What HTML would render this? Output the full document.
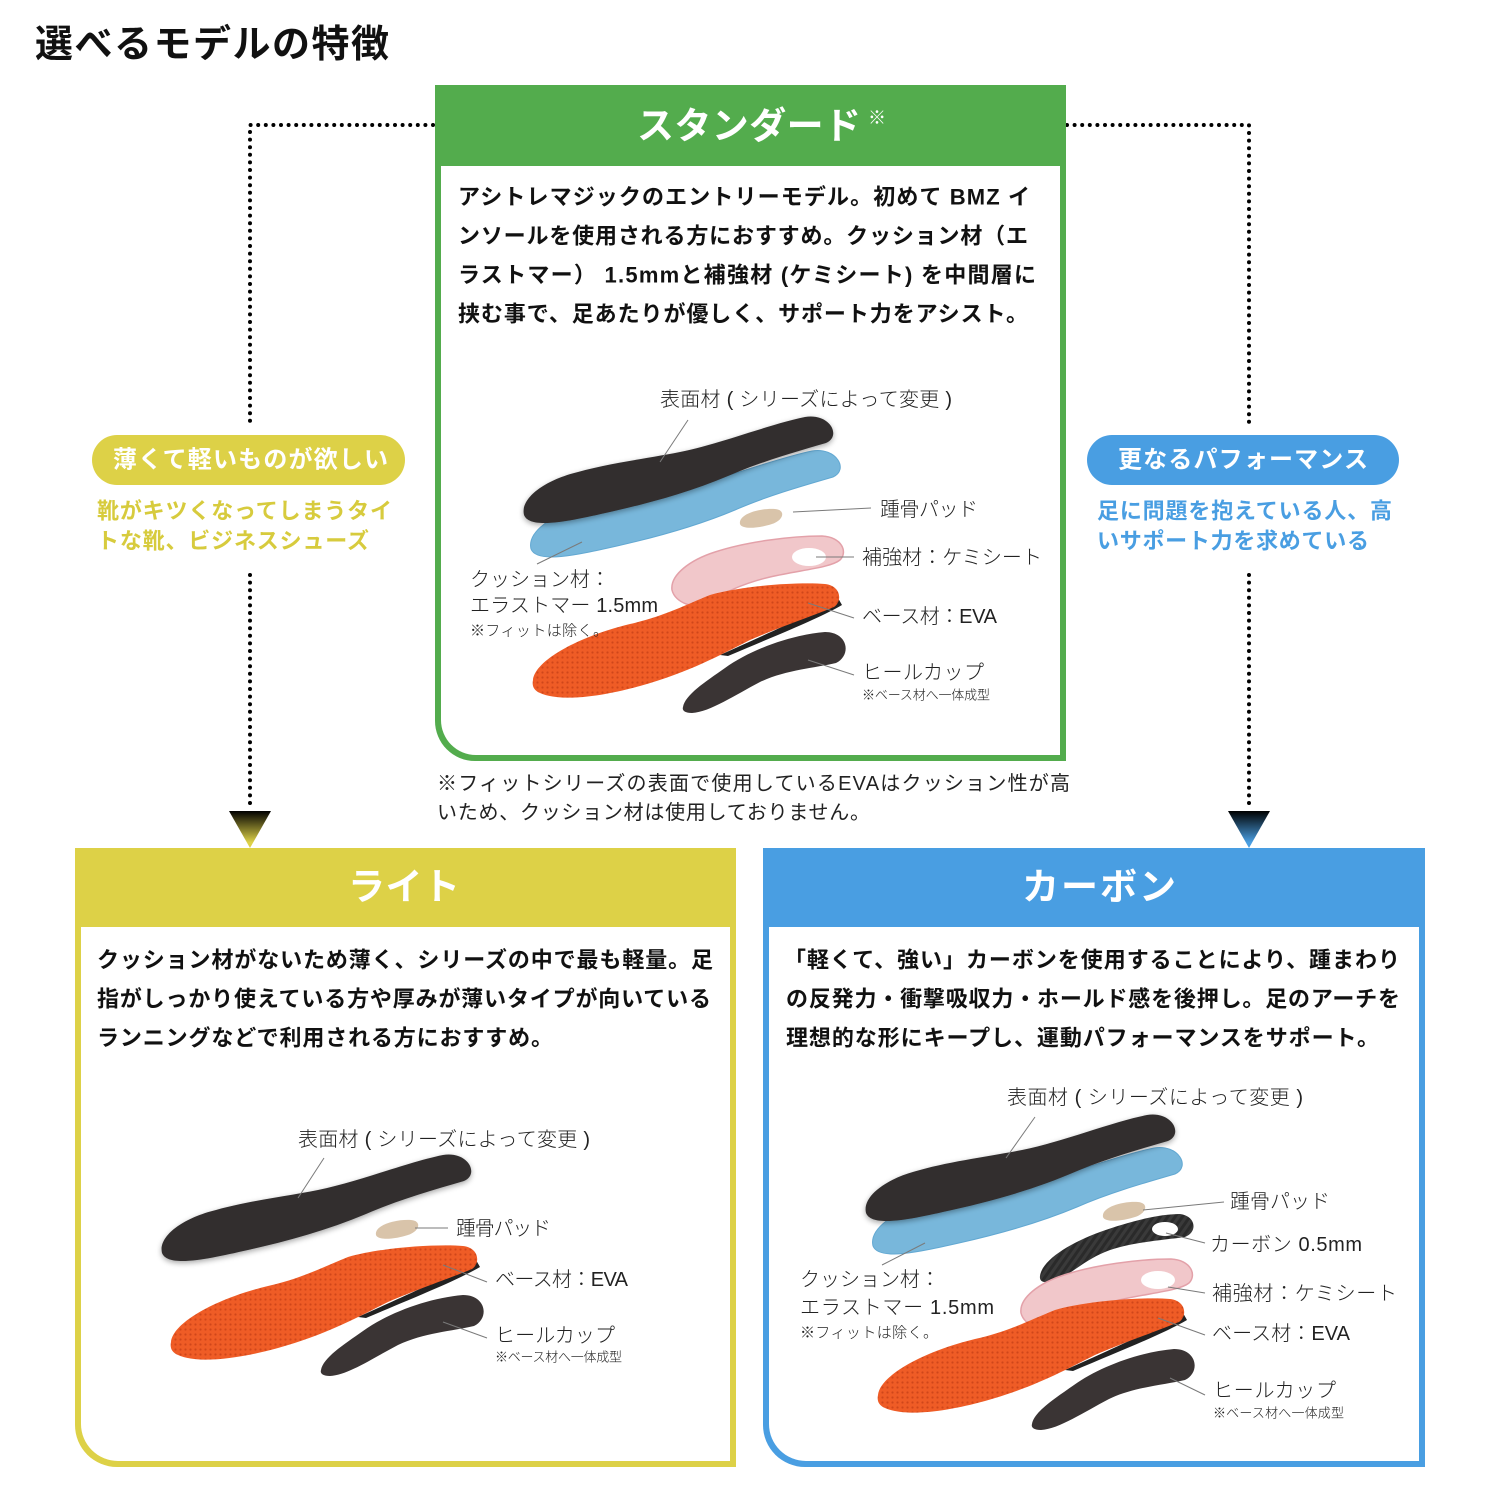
<!DOCTYPE html>
<html><head><meta charset="utf-8"><style>
html,body{margin:0;padding:0;background:#fff;}
body{width:1500px;height:1500px;overflow:hidden;}
svg{display:block;}
text{font-family:"Liberation Sans","Noto Sans CJK JP",sans-serif;dominant-baseline:central;}
.b{font-weight:700;}
.lbl{font-size:20px;fill:#222;font-weight:300;}
.sm{font-size:13px;fill:#222;font-weight:300;}
.body{font-size:22px;fill:#111;font-weight:700;}
.ld{stroke:#7a7a7a;stroke-width:1;fill:none;}
</style></head><body>
<svg width="1500" height="1500" viewBox="0 0 1500 1500" xmlns="http://www.w3.org/2000/svg">
<defs>
<pattern id="dots" width="5" height="5" patternUnits="userSpaceOnUse"><rect width="5" height="5" fill="#ef5c26"/><circle cx="2.5" cy="2.5" r="1.1" fill="#d0461a"/></pattern>
<pattern id="cf" width="6" height="6" patternUnits="userSpaceOnUse" patternTransform="rotate(35)"><rect width="6" height="6" fill="#2a2a2a"/><rect width="3" height="6" fill="#3a3a3a"/></pattern>
<linearGradient id="gy" x1="0" y1="0" x2="0" y2="1"><stop offset="0" stop-color="#000"/><stop offset="0.85" stop-color="#ddd147"/></linearGradient>
<linearGradient id="gb" x1="0" y1="0" x2="0" y2="1"><stop offset="0" stop-color="#000"/><stop offset="0.85" stop-color="#499ee2"/></linearGradient>
<filter id="sh" x="-10%" y="-30%" width="120%" height="160%"><feGaussianBlur in="SourceAlpha" stdDeviation="3"/><feOffset dy="2"/><feComponentTransfer><feFuncA type="linear" slope="0.35"/></feComponentTransfer><feMerge><feMergeNode/><feMergeNode in="SourceGraphic"/></feMerge></filter>
<path id="blk" d="M 524 515 C 520 498, 545 480, 578 472 C 610 463, 650 458, 680 452 C 720 444, 770 424, 805 417 C 830 413, 842 436, 826 443 C 795 452, 760 462, 728 476 C 690 492, 650 503, 610 512 C 570 521, 530 530, 524 515 Z"/>
<path id="pad" d="M 740 524 C 738 514, 760 508, 775 509 C 786 510, 784 520, 772 524 C 760 528, 742 530, 740 524 Z"/>
<path id="pink" d="M 672 590 C 670 575, 690 560, 715 552 C 745 542, 790 536, 822 536 C 842 537, 848 552, 840 560 C 830 568, 800 570, 770 577 C 740 584, 720 595, 708 603 C 695 610, 675 603, 672 590 Z"/>
<path id="org" d="M 533 680 C 535 660, 580 636, 630 624 C 665 616, 685 605, 710 595 C 745 585, 800 582, 825 584 C 842 586, 842 602, 834 607 C 815 615, 780 627, 750 640 C 720 655, 690 672, 640 686 C 600 697, 560 702, 540 693 C 533 690, 532 685, 533 680 Z"/>
<path id="sliver" d="M 720 655 C 760 637, 810 615, 838 598 L 842 605 C 818 619, 775 636, 728 656 Z"/>
<path id="cup" d="M 683 707 C 685 695, 705 682, 725 668 C 750 650, 790 635, 825 632 C 848 632, 852 655, 836 663 C 815 668, 785 670, 760 682 C 735 695, 710 712, 692 713 C 684 713, 682 710, 683 707 Z"/>
</defs>

<!-- Title -->
<text x="35" y="45" class="b" font-size="38" fill="#111" textLength="354" lengthAdjust="spacing">選べるモデルの特徴</text>

<!-- Dotted connectors -->
<g stroke="#000" stroke-width="4" stroke-dasharray="0 7.6" stroke-linecap="round" fill="none">
<path d="M 433 125 H 250 V 424"/>
<path d="M 250 575 V 808"/>
<path d="M 1067 125 H 1249 V 424"/>
<path d="M 1249 575 V 808"/>
</g>
<polygon points="229,811 271,811 250,848" fill="url(#gy)"/>
<polygon points="1228,811 1270,811 1249,848" fill="url(#gb)"/>

<!-- Pills -->
<rect x="92" y="435" width="313" height="50" rx="25" fill="#ddd147"/>
<text x="113" y="460" class="b" font-size="24" fill="#fff" textLength="275" lengthAdjust="spacing">薄くて軽いものが欲しい</text>
<text x="97" y="511" class="b" font-size="22" fill="#d7cb3d" textLength="295" lengthAdjust="spacing">靴がキツくなってしまうタイ</text>
<text x="97" y="541" class="b" font-size="22" fill="#d7cb3d" textLength="272" lengthAdjust="spacing">トな靴、ビジネスシューズ</text>

<rect x="1087" y="435" width="312" height="50" rx="25" fill="#499ee2"/>
<text x="1118" y="460" class="b" font-size="24" fill="#fff" textLength="250" lengthAdjust="spacing">更なるパフォーマンス</text>
<text x="1097" y="511" class="b" font-size="22" fill="#499ee2" textLength="295" lengthAdjust="spacing">足に問題を抱えている人、高</text>
<text x="1097" y="541" class="b" font-size="22" fill="#499ee2" textLength="272" lengthAdjust="spacing">いサポート力を求めている</text>

<!-- Green box -->
<path d="M 435 85 H 1066 V 761 H 475 A 40 40 0 0 1 435 721 Z" fill="#53ac4d"/>
<path d="M 441 166 H 1060 V 755 H 476 A 35 35 0 0 1 441 720 Z" fill="#fff"/>
<text x="637" y="126" class="b" font-size="37" fill="#fff" textLength="224" lengthAdjust="spacing">スタンダード</text>
<text x="868" y="118" font-size="18" fill="#fff">※</text>
<text x="458" y="197" class="body" textLength="572" lengthAdjust="spacing">アシトレマジックのエントリーモデル。初めて BMZ イ</text>
<text x="458" y="236" class="body" textLength="570" lengthAdjust="spacing">ンソールを使用される方におすすめ。クッション材（エ</text>
<text x="458" y="275" class="body" textLength="578" lengthAdjust="spacing">ラストマー） 1.5mmと補強材 (ケミシート) を中間層に</text>
<text x="458" y="314" class="body" textLength="570" lengthAdjust="spacing">挟む事で、足あたりが優しく、サポート力をアシスト。</text>

<!-- Green diagram -->
<use href="#blk" transform="translate(7,34)" fill="#78b7db" stroke="#62a8d2" stroke-width="1"/>
<use href="#blk" fill="#302d2d" filter="url(#sh)"/>
<use href="#pad" fill="#d9c4aa"/>
<use href="#pink" fill="#f1c7ca" stroke="#e3a1a9" stroke-width="1.5"/>
<ellipse cx="809" cy="557" rx="17" ry="9" fill="#fff"/>
<use href="#sliver" fill="#222"/>
<use href="#org" fill="url(#dots)"/>
<use href="#cup" fill="#3a3434"/>
<g class="ld">
<line x1="688" y1="420" x2="660" y2="462"/>
<line x1="582" y1="542" x2="537" y2="564"/>
<line x1="793" y1="512" x2="871" y2="508"/>
<line x1="816" y1="557" x2="854" y2="557"/>
<line x1="808" y1="603" x2="854" y2="618"/>
<line x1="808" y1="660" x2="854" y2="675"/>
</g>
<text x="660" y="400" class="lbl" textLength="292" lengthAdjust="spacing">表面材 ( シリーズによって変更 )</text>
<text x="880" y="510" class="lbl" textLength="98" lengthAdjust="spacing">踵骨パッド</text>
<text x="862" y="558" class="lbl" textLength="180" lengthAdjust="spacing">補強材：ケミシート</text>
<text x="862" y="617" class="lbl" textLength="135" lengthAdjust="spacing">ベース材：EVA</text>
<text x="862" y="673" class="lbl" textLength="122" lengthAdjust="spacing">ヒールカップ</text>
<text x="862" y="695" class="sm" textLength="128" lengthAdjust="spacing">※ベース材へ一体成型</text>
<text x="470" y="580" class="lbl" textLength="140" lengthAdjust="spacing">クッション材：</text>
<text x="470" y="606" class="lbl" textLength="188" lengthAdjust="spacing">エラストマー 1.5mm</text>
<text x="470" y="631" font-size="15" fill="#222" font-weight="300" textLength="138" lengthAdjust="spacing">※フィットは除く。</text>

<!-- Footnote -->
<text x="437" y="784" font-size="20" fill="#222" textLength="633" lengthAdjust="spacing">※フィットシリーズの表面で使用しているEVAはクッション性が高</text>
<text x="437" y="813" font-size="20" fill="#222" textLength="433" lengthAdjust="spacing">いため、クッション材は使用しておりません。</text>

<!-- Yellow box -->
<path d="M 75 848 H 736 V 1467 H 117 A 42 42 0 0 1 75 1425 Z" fill="#ddd147"/>
<path d="M 81 927 H 730 V 1461 H 118 A 37 37 0 0 1 81 1424 Z" fill="#fff"/>
<text x="348" y="887" class="b" font-size="37" fill="#fff" textLength="112" lengthAdjust="spacing">ライト</text>
<text x="97" y="960" class="body" textLength="616" lengthAdjust="spacing">クッション材がないため薄く、シリーズの中で最も軽量。足</text>
<text x="97" y="999" class="body" textLength="614" lengthAdjust="spacing">指がしっかり使えている方や厚みが薄いタイプが向いている</text>
<text x="97" y="1038" class="body" textLength="456" lengthAdjust="spacing">ランニングなどで利用される方におすすめ。</text>

<use href="#blk" transform="translate(-362,738)" fill="#302d2d" filter="url(#sh)"/>
<use href="#pad" transform="translate(-364,711)" fill="#d9c4aa"/>
<use href="#sliver" transform="translate(-362,662)" fill="#222"/>
<use href="#org" transform="translate(-362,662)" fill="url(#dots)"/>
<use href="#cup" transform="translate(-362,663)" fill="#3a3434"/>
<g class="ld">
<line x1="324" y1="1158" x2="298" y2="1198"/>
<line x1="415" y1="1228" x2="448" y2="1228"/>
<line x1="443" y1="1265" x2="487" y2="1282"/>
<line x1="443" y1="1322" x2="487" y2="1338"/>
</g>
<text x="298" y="1140" class="lbl" textLength="292" lengthAdjust="spacing">表面材 ( シリーズによって変更 )</text>
<text x="456" y="1229" class="lbl" textLength="95" lengthAdjust="spacing">踵骨パッド</text>
<text x="495" y="1280" class="lbl" textLength="133" lengthAdjust="spacing">ベース材：EVA</text>
<text x="495" y="1336" class="lbl" textLength="120" lengthAdjust="spacing">ヒールカップ</text>
<text x="495" y="1357" class="sm" textLength="127" lengthAdjust="spacing">※ベース材へ一体成型</text>

<!-- Blue box -->
<path d="M 763 848 H 1425 V 1467 H 805 A 42 42 0 0 1 763 1425 Z" fill="#499ee2"/>
<path d="M 769 927 H 1419 V 1461 H 806 A 37 37 0 0 1 769 1424 Z" fill="#fff"/>
<text x="1022" y="887" class="b" font-size="37" fill="#fff" textLength="154" lengthAdjust="spacing">カーボン</text>
<text x="784" y="960" class="body" textLength="616" lengthAdjust="spacing">「軽くて、強い」カーボンを使用することにより、踵まわり</text>
<text x="786" y="999" class="body" textLength="614" lengthAdjust="spacing">の反発力・衝撃吸収力・ホールド感を後押し。足のアーチを</text>
<text x="786" y="1038" class="body" textLength="593" lengthAdjust="spacing">理想的な形にキープし、運動パフォーマンスをサポート。</text>

<use href="#blk" transform="translate(349,731)" fill="#78b7db" stroke="#62a8d2" stroke-width="1"/>
<use href="#blk" transform="translate(342,698)" fill="#302d2d" filter="url(#sh)"/>
<use href="#pad" transform="translate(363,693)" fill="#d9c4aa"/>
<path d="M 1040 1276 C 1042 1260, 1070 1243, 1100 1232 C 1130 1221, 1160 1214, 1180 1214 C 1196 1216, 1198 1232, 1185 1237 C 1165 1240, 1130 1242, 1105 1252 C 1085 1260, 1070 1275, 1055 1281 C 1045 1284, 1039 1282, 1040 1276 Z" fill="url(#cf)"/>
<ellipse cx="1165" cy="1229" rx="13" ry="7" fill="#fff"/>
<use href="#pink" transform="translate(349,723)" fill="#f1c7ca" stroke="#e3a1a9" stroke-width="1.5"/>
<ellipse cx="1158" cy="1280" rx="17" ry="9" fill="#fff"/>
<use href="#sliver" transform="translate(345,715)" fill="#222"/>
<use href="#org" transform="translate(345,715)" fill="url(#dots)"/>
<use href="#cup" transform="translate(349,717)" fill="#3a3434"/>
<g class="ld">
<line x1="1035" y1="1117" x2="1006" y2="1158"/>
<line x1="925" y1="1243" x2="882" y2="1265"/>
<line x1="1143" y1="1210" x2="1224" y2="1202"/>
<line x1="1166" y1="1233" x2="1205" y2="1243"/>
<line x1="1168" y1="1287" x2="1205" y2="1293"/>
<line x1="1158" y1="1318" x2="1205" y2="1335"/>
<line x1="1170" y1="1378" x2="1205" y2="1395"/>
</g>
<text x="1007" y="1098" class="lbl" textLength="296" lengthAdjust="spacing">表面材 ( シリーズによって変更 )</text>
<text x="1230" y="1202" class="lbl" textLength="100" lengthAdjust="spacing">踵骨パッド</text>
<text x="1210" y="1245" class="lbl" textLength="152" lengthAdjust="spacing">カーボン 0.5mm</text>
<text x="1212" y="1294" class="lbl" textLength="185" lengthAdjust="spacing">補強材：ケミシート</text>
<text x="1212" y="1334" class="lbl" textLength="138" lengthAdjust="spacing">ベース材：EVA</text>
<text x="1213" y="1391" class="lbl" textLength="123" lengthAdjust="spacing">ヒールカップ</text>
<text x="1213" y="1413" class="sm" textLength="131" lengthAdjust="spacing">※ベース材へ一体成型</text>
<text x="800" y="1280" class="lbl" textLength="140" lengthAdjust="spacing">クッション材：</text>
<text x="800" y="1308" class="lbl" textLength="194" lengthAdjust="spacing">エラストマー 1.5mm</text>
<text x="800" y="1333" font-size="15" fill="#222" font-weight="300" textLength="138" lengthAdjust="spacing">※フィットは除く。</text>
</svg>
</body></html>
